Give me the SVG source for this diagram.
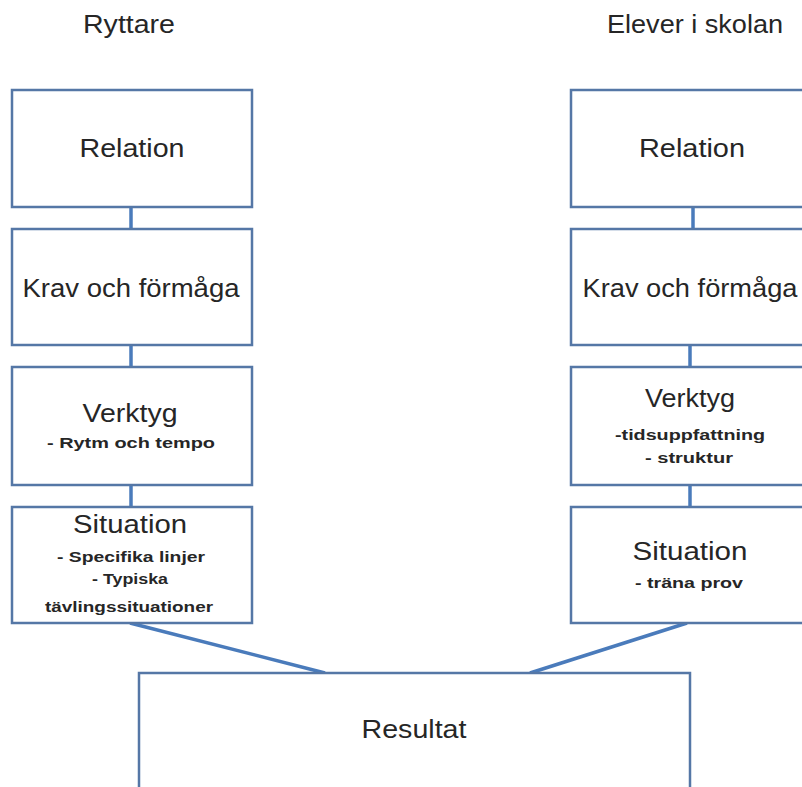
<svg xmlns="http://www.w3.org/2000/svg" width="802" height="787" viewBox="0 0 802 787">
<style>
.box{fill:#ffffff;stroke:#5577a6;stroke-width:2.5}
.con{stroke:#4a7bbb;stroke-width:3.5;fill:none}
.big{font-family:"Liberation Sans",Arial,sans-serif;font-size:25px;fill:#262626;text-anchor:middle}
.sm{font-family:"Liberation Sans",Arial,sans-serif;font-size:14px;font-weight:bold;fill:#262626;text-anchor:middle}
</style>
<rect width="802" height="787" fill="#ffffff"/>
<g id="connectors">
<line class="con" x1="131" y1="207" x2="131" y2="229"/>
<line class="con" x1="131" y1="345" x2="131" y2="367"/>
<line class="con" x1="131" y1="485" x2="131" y2="507"/>
<line class="con" x1="693" y1="207" x2="693" y2="229"/>
<line class="con" x1="690" y1="345" x2="690" y2="367"/>
<line class="con" x1="690" y1="485" x2="690" y2="507"/>
<line class="con" x1="130" y1="623" x2="325" y2="673"/>
<line class="con" x1="687" y1="623" x2="530" y2="673"/>
</g>
<g id="title-left"><text class="big" x="129" y="33" textLength="92" lengthAdjust="spacingAndGlyphs">Ryttare</text></g>
<g id="title-right"><text class="big" x="695" y="33" textLength="176" lengthAdjust="spacingAndGlyphs">Elever i skolan</text></g>
<g id="l-relation"><rect class="box" x="12" y="90" width="240" height="117"/><text class="big" x="132" y="157" textLength="105" lengthAdjust="spacingAndGlyphs">Relation</text></g>
<g id="l-krav"><rect class="box" x="12" y="229" width="240" height="116"/><text class="big" x="131" y="297" textLength="217" lengthAdjust="spacingAndGlyphs">Krav och förmåga</text></g>
<g id="l-verktyg"><rect class="box" x="12" y="367" width="240" height="118"/><text class="big" x="130" y="422" textLength="95" lengthAdjust="spacingAndGlyphs">Verktyg</text><text class="sm" x="131" y="448" textLength="168" lengthAdjust="spacingAndGlyphs">-  Rytm och tempo</text></g>
<g id="l-situation"><rect class="box" x="12" y="507" width="240" height="116"/><text class="big" x="130" y="533" textLength="114" lengthAdjust="spacingAndGlyphs">Situation</text><text class="sm" x="131" y="562" textLength="148" lengthAdjust="spacingAndGlyphs">- Specifika  linjer</text><text class="sm" x="130" y="584" textLength="76" lengthAdjust="spacingAndGlyphs">- Typiska</text><text class="sm" x="129" y="612" textLength="168" lengthAdjust="spacingAndGlyphs">tävlingssituationer</text></g>
<g id="r-relation"><rect class="box" x="571" y="90" width="240" height="117"/><text class="big" x="692" y="157" textLength="106" lengthAdjust="spacingAndGlyphs">Relation</text></g>
<g id="r-krav"><rect class="box" x="571" y="229" width="240" height="116"/><text class="big" x="690" y="297" textLength="215" lengthAdjust="spacingAndGlyphs">Krav och förmåga</text></g>
<g id="r-verktyg"><rect class="box" x="571" y="367" width="240" height="118"/><text class="big" x="690" y="407" textLength="90" lengthAdjust="spacingAndGlyphs">Verktyg</text><text class="sm" x="690" y="440" textLength="150" lengthAdjust="spacingAndGlyphs">-tidsuppfattning</text><text class="sm" x="689" y="463" textLength="88" lengthAdjust="spacingAndGlyphs">- struktur</text></g>
<g id="r-situation"><rect class="box" x="571" y="507" width="240" height="116"/><text class="big" x="690" y="560" textLength="115" lengthAdjust="spacingAndGlyphs">Situation</text><text class="sm" x="689" y="588" textLength="108" lengthAdjust="spacingAndGlyphs">- träna prov</text></g>
<g id="resultat"><rect class="box" x="139" y="673" width="551" height="140"/><text class="big" x="414" y="738" textLength="105" lengthAdjust="spacingAndGlyphs">Resultat</text></g>
</svg>
